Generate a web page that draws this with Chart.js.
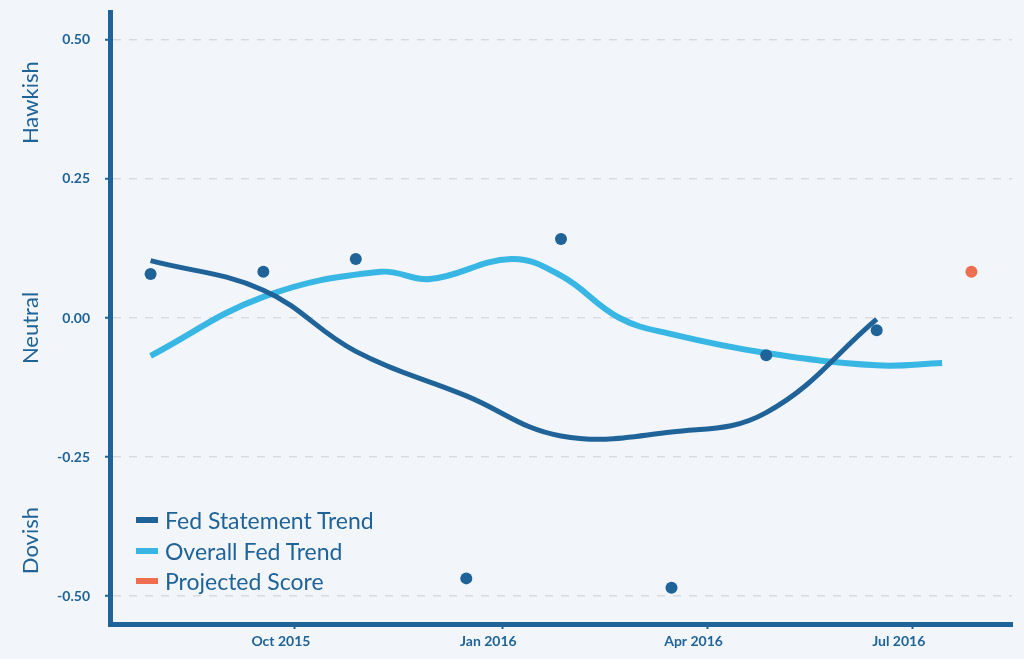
<!DOCTYPE html>
<html>
<head>
<meta charset="utf-8">
<script src="https://cdn.jsdelivr.net/npm/chart.js@4.4.0/dist/chart.umd.min.js"></script>
<style>
  html, body { margin: 0; padding: 0; background: #f2f6fb; }
  #wrap { position: relative; width: 1024px; height: 659px; }
  #legend { position: absolute; left: 136px; top: 505px; font-family: Lato, sans-serif; font-size: 23px; color: #1f6399; }
  #legend .row { display: flex; align-items: center; height: 30.5px; }
  #legend .sw { width: 22px; height: 6px; margin-right: 7px; }
</style>
</head>
<body>
<div id="wrap">
  <canvas id="chart" width="1024" height="659"></canvas>
  <div id="legend"></div>
</div>
<script>
// FOMC statement dates and scores
const statementDates = ['2015-07-29', '2015-09-17', '2015-10-28', '2015-12-16', '2016-01-27', '2016-03-16', '2016-04-27', '2016-06-15'];
const statementScores = [0.079, 0.083, 0.106, -0.468, 0.142, -0.485, -0.067, -0.022];
const statementTrend = [0.103, 0.050, -0.060, -0.140, -0.212, -0.205, -0.170, -0.002];

const overallDates = ['2015-07-29', '2015-09-17', '2015-11-08', '2015-11-30', '2016-01-05', '2016-01-27', '2016-02-22', '2016-03-16', '2016-04-27', '2016-06-15', '2016-07-14'];
const overallTrend = [-0.068, 0.038, 0.083, 0.070, 0.106, 0.076, 0.000, -0.029, -0.063, -0.085, -0.081];

const projectedDates = ['2016-07-27'];
const projectedScores = [0.083];

const xTickDates = ['2015-10-01', '2016-01-01', '2016-04-01', '2016-07-01'];
const xTickLabels = ['Oct 2015', 'Jan 2016', 'Apr 2016', 'Jul 2016'];
const yTickValues = [-0.5, -0.25, 0, 0.25, 0.5];
const zoneLabels = ['Hawkish', 'Neutral', 'Dovish'];

const DARK = '#1f6399';
const LIGHT = '#38b6e4';
const ORANGE = '#f06e50';

// days since epoch, so the x axis can stay linear
const day = s => Date.parse(s + 'T00:00:00Z') / 864e5;
const pts = (dates, vals) => dates.map((d, i) => ({ x: day(d), y: vals[i] }));

const zonePlugin = {
  id: 'zones',
  afterDraw(chart) {
    const { ctx, scales: { y } } = chart;
    const centers = [0.387, -0.018, -0.40];
    ctx.save();
    ctx.fillStyle = DARK;
    ctx.font = '22px Lato, sans-serif';
    ctx.textAlign = 'center';
    ctx.textBaseline = 'middle';
    zoneLabels.forEach((t, i) => {
      ctx.save();
      ctx.translate(31, y.getPixelForValue(centers[i]));
      ctx.rotate(-Math.PI / 2);
      ctx.fillText(t, 0, 0);
      ctx.restore();
    });
    ctx.restore();
  }
};

const chart = new Chart(document.getElementById('chart'), {
  type: 'line',
  data: {
    datasets: [
      {
        label: 'Fed Statements',
        data: pts(statementDates, statementScores),
        showLine: false,
        pointRadius: 6,
        pointBackgroundColor: DARK,
        pointBorderWidth: 0,
        order: 0
      },
      {
        label: 'Projected Score',
        data: pts(projectedDates, projectedScores),
        showLine: false,
        pointRadius: 6,
        pointBackgroundColor: ORANGE,
        pointBorderWidth: 0,
        borderColor: ORANGE,
        inLegend: 3,
        order: 0
      },
      {
        label: 'Fed Statement Trend',
        data: pts(statementDates, statementTrend),
        borderColor: DARK,
        borderWidth: 5,
        pointRadius: 0,
        tension: 0.4,
        inLegend: 1,
        order: 1
      },
      {
        label: 'Overall Fed Trend',
        data: pts(overallDates, overallTrend),
        borderColor: LIGHT,
        borderWidth: 6,
        pointRadius: 0,
        tension: 0.4,
        inLegend: 2,
        order: 2
      }
    ]
  },
  options: {
    responsive: false,
    animation: false,
    layout: { padding: { top: 12, right: 12, left: 0, bottom: 0 } },
    plugins: { legend: { display: false }, tooltip: { enabled: false } },
    scales: {
      x: {
        type: 'linear',
        min: day('2015-07-11'),
        max: day('2016-08-14'),
        afterBuildTicks: s => { s.ticks = xTickDates.map(d => ({ value: day(d) })); },
        afterFit: s => { s.height = 35; s.paddingLeft = 0; s.paddingRight = 0; },
        border: { color: DARK, width: 5 },
        grid: { drawOnChartArea: false, tickColor: DARK, tickLength: 5, tickWidth: 2 },
        ticks: {
          labelOffset: -14,
          padding: 4,
          color: DARK,
          font: { family: 'Lato, sans-serif', size: 14, weight: 'bold' },
          callback: (v) => xTickLabels[xTickDates.findIndex(d => day(d) === v)]
        }
      },
      y: {
        min: -0.55,
        max: 0.55,
        afterBuildTicks: s => { s.ticks = yTickValues.map(v => ({ value: v })); },
        afterFit: s => { s.width = 110; s.paddingTop = 0; s.paddingBottom = 0; },
        border: { color: DARK, width: 5, dash: [8, 8] },
        grid: { color: '#d9dadf', lineWidth: 1.5, tickColor: DARK, tickLength: 5, tickWidth: 2, tickBorderDash: [] },
        ticks: {
          padding: 15,
          color: DARK,
          font: { family: 'Lato, sans-serif', size: 14, weight: 'bold' },
          callback: v => v.toFixed(2)
        }
      }
    }
  },
  plugins: [zonePlugin]
});

// html legend, bottom left inside the plot
const legendEl = document.getElementById('legend');
chart.data.datasets
  .filter(ds => ds.inLegend)
  .sort((a, b) => a.inLegend - b.inLegend)
  .forEach(ds => {
    const row = document.createElement('div');
    row.className = 'row';
    row.innerHTML = `<span class="sw" style="background:${ds.borderColor}"></span><span>${ds.label}</span>`;
    legendEl.appendChild(row);
  });
</script>
</body>
</html>
